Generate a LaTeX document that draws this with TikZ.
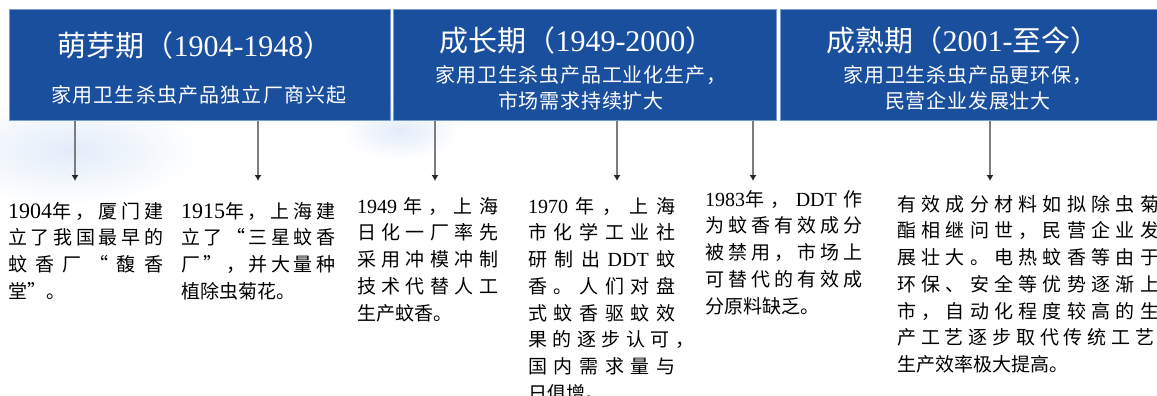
\documentclass[tikz,border=0pt]{standalone}
\usepackage{fontspec}
\setmainfont{Liberation Serif}
\newfontfamily\cjk{Noto Sans CJK SC}
\newfontfamily\lat{Liberation Serif}
\usetikzlibrary{arrows.meta}
\definecolor{bannerblue}{RGB}{26,79,158}
\definecolor{bannerline}{RGB}{120,155,210}
\definecolor{arrgray}{RGB}{125,125,125}
\definecolor{haze}{RGB}{226,236,249}
\makeatletter
\newcommand\sprline[2]{\makebox[#1pt][s]{\let\spr@first\@empty\@tfor\spr@x:=#2\do{\spr@first{\spr@x}\let\spr@first\hfil}}}
\makeatother
\newcommand\numa[1]{{\lat\fontsize{22}{26.7}\selectfont #1}}
\newcommand\numb[1]{{\lat\fontsize{20}{26.7}\selectfont #1}}
\tikzset{
  banner/.style={rectangle, fill=bannerblue, draw=bannerline, line width=0.6pt, anchor=north west, inner sep=0pt},
  ttl/.style={text=white, inner sep=0pt, font=\cjk\fontsize{29}{32}\selectfont},
  sub/.style={text=white, inner sep=0pt, align=center, font=\cjk\fontsize{20}{26}\selectfont},
  body/.style={anchor=north west, inner sep=0pt, align=left, text=black, font=\cjk\fontsize{19}{26.7}\selectfont},
  arr/.style={draw=arrgray, line width=1.1pt, -{Latex[length=6pt,width=7pt,color=black!85]}}
}
\begin{document}
\begin{tikzpicture}[x=1pt,y=-1pt]
\useasboundingbox (0,0) rectangle (1157,396);
\clip (0,0) rectangle (1157,396);
% faint haze below the banners
\shade[inner color=haze, outer color=white] (70,150) ellipse (130 and 55);
\shade[inner color=haze, outer color=white] (400,130) ellipse (60 and 30);
% banners
\node[banner, minimum width=381pt, minimum height=111pt] (b1) at (9,9) {};
\node[banner, minimum width=383pt, minimum height=111pt] (b2) at (393,9) {};
\node[banner, minimum width=395pt, minimum height=111pt] (b3) at (780,9) {};
% titles
\node[ttl] (h1) at (195,45) {萌芽期（{\lat\fontsize{30}{32}\selectfont 1904-1948}）};
\node[ttl] (h2) at (577,40) {成长期（{\lat\fontsize{30}{32}\selectfont 1949-2000}）};
\node[ttl] (h3) at (963,40) {成熟期（{\lat\fontsize{30}{32}\selectfont 2001-}至今）};
\node[sub] (s1) at (199,95) {\addfontfeature{LetterSpace=6}家用卫生杀虫产品独立厂商兴起};
\node[sub] (s2) at (581,88) {\addfontfeature{LetterSpace=4}家用卫生杀虫产品工业化生产，\\\addfontfeature{LetterSpace=4}市场需求持续扩大};
\node[sub] (s3) at (968,88) {\addfontfeature{LetterSpace=4}家用卫生杀虫产品更环保，\\\addfontfeature{LetterSpace=4}民营企业发展壮大};
% text blocks
\node[body] (t1) at (8,202) {\sprline{155}{{\numa{1904}年}，厦门建}\\\sprline{155}{立了我国最早的}\\\sprline{155}{蚊香厂“馥香}\\堂”。};
\node[body] (t2) at (181,202) {\sprline{154}{{\numa{1915}年}，上海建}\\\sprline{154}{立了“三星蚊香}\\\sprline{154}{厂”，并大量种}\\植除虫菊花。};
\node[body] (t3) at (357,197) {\sprline{141}{{\numb{1949}}年，上海}\\\sprline{141}{日化一厂率先}\\\sprline{141}{采用冲模冲制}\\\sprline{141}{技术代替人工}\\生产蚊香。};
\node[body] (t4) at (528,197) {\sprline{147}{{\numb{1970}}年，上海}\\\sprline{147}{市化学工业社}\\\sprline{147}{研制出{\numb{DDT}}蚊}\\\sprline{147}{香。人们对盘}\\\sprline{147}{式蚊香驱蚊效}\\\sprline{147}{果的逐步认可{\rlap{，}}}\\\sprline{147}{国内需求量与}\\日俱增。};
\node[body] (t5) at (705,190) {\sprline{157}{{\numb{1983}年}，{\numb{DDT}}作}\\\sprline{157}{为蚊香有效成分}\\\sprline{157}{被禁用，市场上}\\\sprline{157}{可替代的有效成}\\分原料缺乏。};
\node[body] (t6) at (897,195) {\sprline{262}{有效成分材料如拟除虫菊}\\\sprline{262}{酯相继问世，民营企业发}\\\sprline{262}{展壮大。电热蚊香等由于}\\\sprline{262}{环保、安全等优势逐渐上}\\\sprline{262}{市，自动化程度较高的生}\\\sprline{262}{产工艺逐步取代传统工艺{\rlap{，}}}\\生产效率极大提高。};
% arrow tips
\coordinate (a1) at (75,181);
\coordinate (a2) at (258,181);
\coordinate (a3) at (435,181);
\coordinate (a4) at (617,181);
\coordinate (a5) at (753,181);
\coordinate (a6) at (990,181);
\draw[arr] (a1 |- b1.south) -- (a1);
\draw[arr] (a2 |- b1.south) -- (a2);
\draw[arr] (a3 |- b2.south) -- (a3);
\draw[arr] (a4 |- b2.south) -- (a4);
\draw[arr] (a5 |- b2.south) -- (a5);
\draw[arr] (a6 |- b3.south) -- (a6);
\end{tikzpicture}
\end{document}
